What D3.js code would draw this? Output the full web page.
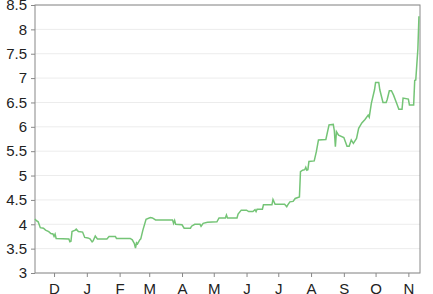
<!DOCTYPE html>
<html>
<head>
<meta charset="utf-8">
<script src="https://cdn.jsdelivr.net/npm/d3@7"></script>
<style>
    body { margin: 0; background: #fff; }
    #chart { width: 433px; height: 294px; }
    .axis text { font-family: "Liberation Sans", Arial, sans-serif; font-size: 15px; fill: #222; }
    .axis path, .axis line { stroke: #888; }
    .grid line { stroke: #ececec; }
</style>
</head>
<body>
<div id="chart"></div>
<script>
// data (step changes, start/end of each level)
const dates = [
    "2013-11-13", "2013-11-14", "2013-11-16", "2013-11-18", "2013-11-21", "2013-11-23", "2013-11-26",
    "2013-11-28", "2013-11-30", "2013-12-01", "2013-12-02", "2013-12-03", "2013-12-15", "2013-12-16",
    "2013-12-17", "2013-12-18", "2013-12-21", "2013-12-22", "2013-12-24", "2013-12-28", "2013-12-30",
    "2014-01-02", "2014-01-04", "2014-01-06", "2014-01-07", "2014-01-09", "2014-01-11", "2014-01-20",
    "2014-01-22", "2014-01-28", "2014-01-29", "2014-02-11", "2014-02-13", "2014-02-15", "2014-02-16",
    "2014-02-17", "2014-02-18", "2014-02-20", "2014-02-21", "2014-02-23", "2014-02-26", "2014-03-02",
    "2014-03-04", "2014-03-07", "2014-03-23", "2014-03-24", "2014-03-25", "2014-03-26", "2014-04-01",
    "2014-04-03", "2014-04-09", "2014-04-10", "2014-04-13", "2014-04-18", "2014-04-19", "2014-04-21",
    "2014-04-25", "2014-05-04", "2014-05-06", "2014-05-12", "2014-05-13", "2014-05-14", "2014-05-23",
    "2014-05-24", "2014-05-27", "2014-06-01", "2014-06-03", "2014-06-07", "2014-06-09", "2014-06-10",
    "2014-06-11", "2014-06-16", "2014-06-17", "2014-06-25", "2014-06-26", "2014-06-28", "2014-07-07",
    "2014-07-09", "2014-07-10", "2014-07-12", "2014-07-15", "2014-07-17", "2014-07-21", "2014-07-22",
    "2014-07-24", "2014-07-26", "2014-07-27", "2014-07-28", "2014-07-29", "2014-07-30", "2014-08-04",
    "2014-08-06", "2014-08-08", "2014-08-15", "2014-08-18", "2014-08-22", "2014-08-23", "2014-08-24",
    "2014-08-25", "2014-08-27", "2014-09-01", "2014-09-04", "2014-09-06", "2014-09-08", "2014-09-10",
    "2014-09-13", "2014-09-15", "2014-09-18", "2014-09-21", "2014-09-24", "2014-09-25", "2014-09-27",
    "2014-09-30", "2014-10-01", "2014-10-04", "2014-10-05", "2014-10-08", "2014-10-11", "2014-10-12",
    "2014-10-14", "2014-10-16", "2014-10-18", "2014-10-21", "2014-10-23", "2014-10-26", "2014-10-27",
    "2014-11-01", "2014-11-02", "2014-11-06", "2014-11-07", "2014-11-08", "2014-11-10", "2014-11-11"
];

const values = [
    4.11, 4.08, 4.05, 3.93, 3.92, 3.88, 3.85,
    3.81, 3.80, 3.75, 3.80, 3.71, 3.70, 3.64,
    3.65, 3.85, 3.88, 3.90, 3.85, 3.84, 3.73,
    3.72, 3.70, 3.64, 3.66, 3.76, 3.70, 3.70,
    3.75, 3.75, 3.71, 3.71, 3.68, 3.60, 3.51,
    3.62, 3.60, 3.68, 3.70, 3.88, 4.10, 4.14,
    4.13, 4.09, 4.09, 4.02, 4.08, 4.00, 3.99,
    3.92, 3.92, 3.96, 4.00, 4.00, 3.96, 4.02,
    4.04, 4.05, 4.13, 4.13, 4.19, 4.13, 4.13,
    4.21, 4.29, 4.29, 4.26, 4.26, 4.30, 4.26,
    4.31, 4.31, 4.40, 4.40, 4.51, 4.41, 4.41,
    4.36, 4.40, 4.46, 4.47, 4.53, 4.56, 5.08,
    5.11, 5.12, 5.17, 5.11, 5.12, 5.29, 5.30,
    5.49, 5.73, 5.74, 6.04, 6.05, 5.92, 5.59,
    5.90, 5.83, 5.78, 5.60, 5.60, 5.73, 5.66,
    5.76, 5.97, 6.08, 6.15, 6.24, 6.20, 6.48,
    6.76, 6.91, 6.91, 6.76, 6.50, 6.50, 6.56,
    6.74, 6.74, 6.65, 6.48, 6.36, 6.36, 6.59,
    6.57, 6.45, 6.45, 6.95, 6.96, 7.60, 8.27
];

const yTicks = [3, 3.5, 4, 4.5, 5, 5.5, 6, 6.5, 7, 7.5, 8, 8.5];
const xDomain = ["2013-11-13", "2014-11-12"];

const parseDate = d3.timeParse("%Y-%m-%d");

let margin = {top: 5, right: 13, bottom: 21, left: 35};
let width = 433 - margin.left - margin.right;
let height = 294 - margin.top - margin.bottom;

let svg = d3.select("#chart").append("svg")
    .attr("width", 433)
    .attr("height", 294)
    .append("g")
    .attr("transform", `translate(${margin.left}, ${margin.top})`);

let displayData = dates.map((d, i) => ({date: parseDate(d), value: values[i]}));

// scales
let x = d3.scaleTime()
    .domain(xDomain.map(parseDate))
    .range([0, width]);

let y = d3.scaleLinear()
    .domain([3, 8.5])
    .range([height, 0]);

// grid lines
svg.append("g")
    .attr("class", "grid")
    .selectAll("line")
    .data(yTicks)
    .enter().append("line")
    .attr("x1", 0)
    .attr("x2", width)
    .attr("y1", d => y(d))
    .attr("y2", d => y(d));

// axes
let xAxis = d3.axisBottom(x)
    .ticks(d3.timeMonth.every(1))
    .tickSize(4)
    .tickPadding(6)
    .tickFormat(d => d3.timeFormat("%b")(d).charAt(0));

let yAxis = d3.axisLeft(y)
    .tickValues(yTicks)
    .tickSize(4)
    .tickPadding(4)
    .tickFormat(d3.format("~g"));

svg.append("g")
    .attr("class", "x-axis axis")
    .attr("transform", `translate(0, ${height})`)
    .call(xAxis)
    .call(g => g.select(".domain").remove());

svg.append("g")
    .attr("class", "y-axis axis")
    .call(yAxis)
    .call(g => g.select(".domain").remove());

// frame
svg.append("rect")
    .attr("x", 0)
    .attr("y", 0)
    .attr("width", width)
    .attr("height", height)
    .attr("fill", "none")
    .attr("stroke", "#888")
    .attr("stroke-width", 1);

// the line
svg.append("path")
    .datum(displayData)
    .attr("fill", "none")
    .attr("stroke", "#74c476")
    .attr("stroke-width", 1.5)
    .attr("d", d3.line()
        .x(d => x(d.date))
        .y(d => y(d.value))
    );
</script>
</body>
</html>
